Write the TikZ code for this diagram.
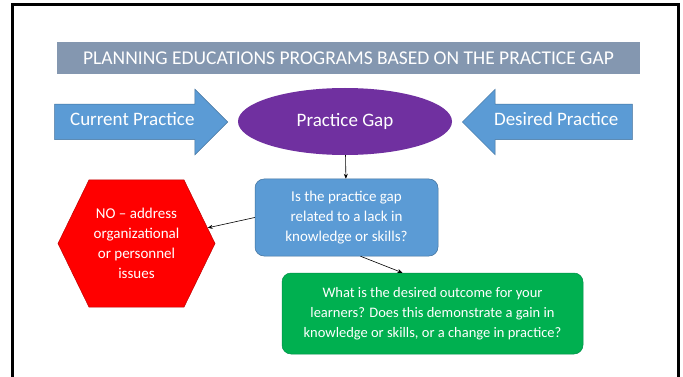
\documentclass[tikz,border=0pt]{standalone}
\usepackage{fontspec}
\setmainfont{Carlito}
\usetikzlibrary{shapes.arrows,shapes.symbols,shapes.geometric,arrows.meta}

\definecolor{titlegray}{HTML}{8497B0}
\definecolor{arrowblue}{HTML}{5B9BD5}
\definecolor{blueedge}{HTML}{41719C}
\definecolor{gappurple}{HTML}{7030A0}
\definecolor{nored}{HTML}{FF0000}
\definecolor{rededge}{HTML}{C00000}
\definecolor{outgreen}{HTML}{00B050}
\definecolor{greenedge}{HTML}{00904A}

\tikzset{
  practice/.style={single arrow,fill=arrowblue,draw=blueedge,line width=0.5pt,text=white,
    font=\fontsize{19}{21}\selectfont,single arrow head extend=15pt,
    inner ysep=10.5pt,text height=11pt,text depth=3pt},
  question/.style={rectangle,rounded corners=9pt,line width=0.5pt,align=center,text=white},
  flow/.style={-{Stealth[length=5pt,width=4pt]},line width=0.6pt}
}

\begin{document}
\begin{tikzpicture}[x=1pt,y=-1pt]
\useasboundingbox (0,0) rectangle (683,377);
\fill[white] (0,0) rectangle (683,377);

% frame
\draw[line width=3pt] (12,377) -- (12,5) -- (678,5) -- (678,377);

% title bar
\node[fill=titlegray,minimum width=583pt,minimum height=32pt,inner sep=0,text=white,
  font=\fontsize{19.5}{22}\selectfont] (title) at (348.5,58)
  {PLANNING EDUCATIONS PROGRAMS BASED ON THE PRACTICE GAP};

% current practice arrow
\node[practice,minimum height=173pt,anchor=tip] (current) at (228,122) {Current Practice};

% desired practice arrow
\node[practice,minimum height=170pt,shape border rotate=180,anchor=tip] (desired) at (462,122) {Desired Practice};

% practice gap node
\node[ellipse,fill=gappurple,minimum width=214pt,minimum height=67pt,inner sep=0,text=white,
  font=\fontsize{19}{21}\selectfont] (gap) at (345,121.5) {Practice Gap};

% question node
\node[question,fill=arrowblue,draw=blueedge,minimum width=183pt,minimum height=77pt,
  font=\fontsize{15}{20}\selectfont] (q) at (346.5,217.5)
  {Is the practice gap\\related to a lack in\\knowledge or skills?};

% no node
\node[signal,signal to=west and east,signal pointer angle=128,fill=nored,draw=rededge,line width=0.5pt,
  minimum width=157pt,minimum height=127pt,inner sep=0,align=center,text=white,
  font=\fontsize{15}{20}\selectfont] (no) at (136.5,243.5)
  {NO -- address\\organizational\\or personnel\\issues};

% outcome node
\node[question,fill=outgreen,draw=greenedge,minimum width=301pt,minimum height=81pt,
  font=\fontsize{14.5}{20}\selectfont] (outcome) at (432.5,313.5)
  {What is the desired outcome for your\\learners? Does this demonstrate a gain in\\knowledge or skills, or a change in practice?};

\draw[flow] (gap) -- (q);
\draw[flow] (q.west) -- (no);
\draw[flow] ([xshift=14pt]q.south) -- ([xshift=-30pt]outcome.north);

\end{tikzpicture}
\end{document}
